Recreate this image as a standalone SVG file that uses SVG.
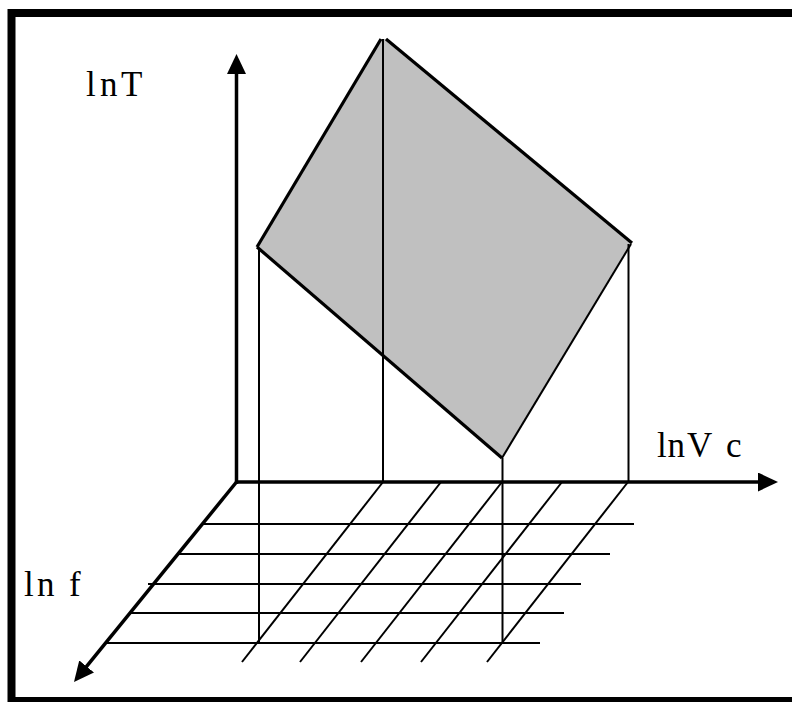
<svg xmlns="http://www.w3.org/2000/svg" width="792" height="702" viewBox="0 0 792 702">
<style>
.frame{fill:none;stroke:#000;stroke-width:8}
.axis{stroke:#000;stroke-width:3.5;fill:none}
.thin{stroke:#000;stroke-width:2;fill:none}
.edge{stroke:#000;stroke-width:3.2;fill:none;stroke-linejoin:round}
.face{fill:#c0c0c0;stroke:none}
.lbl{font-family:"Liberation Serif","Times New Roman",serif;font-size:35px;fill:#000}
</style>
<defs>
<marker id="arr" viewBox="0 0 20 19" refX="10" refY="9.5" markerWidth="20" markerHeight="19" markerUnits="userSpaceOnUse" orient="auto">
<path d="M0,0 L20,9.5 L0,19 z" fill="#000"/>
</marker>
</defs>
<rect class="frame" x="11.5" y="13" width="800" height="688"/>
<g id="surface">
<polygon class="face" points="257,247 381,39 386,39 632,243 502,458"/>
<line class="edge" x1="257" y1="247" x2="381" y2="39"/>
<line class="edge" x1="386" y1="39" x2="632" y2="243"/>
<line class="edge" x1="257" y1="247" x2="502" y2="458"/>
<line class="thin" x1="502" y1="458" x2="631" y2="244"/>
</g>
<g id="grid">
<line class="thin" x1="202" y1="524" x2="634" y2="524"/>
<line class="thin" x1="179" y1="554" x2="610" y2="554"/>
<line class="thin" x1="148" y1="584" x2="581" y2="584"/>
<line class="thin" x1="131" y1="613" x2="564" y2="613"/>
<line class="thin" x1="107" y1="643" x2="540" y2="643"/>
<line class="thin" x1="383" y1="482" x2="242" y2="662"/>
<line class="thin" x1="441" y1="482" x2="300" y2="662"/>
<line class="thin" x1="502" y1="482" x2="361" y2="662"/>
<line class="thin" x1="562" y1="482" x2="421" y2="662"/>
<line class="thin" x1="628" y1="482" x2="487" y2="662"/>
</g>
<g id="projections">
<line class="thin" x1="259" y1="248" x2="259" y2="643"/>
<line class="thin" x1="383" y1="39" x2="383" y2="482"/>
<line class="thin" x1="502.5" y1="458" x2="502.5" y2="643"/>
<line class="thin" x1="628.5" y1="244" x2="628.5" y2="482"/>
</g>
<g id="axes">
<line class="axis" x1="236.5" y1="484" x2="236.5" y2="64" marker-end="url(#arr)"/>
<line class="axis" x1="235" y1="482" x2="768" y2="482" marker-end="url(#arr)"/>
<line class="axis" x1="236.5" y1="482" x2="80.3" y2="674.2" marker-end="url(#arr)"/>
</g>
<g id="labels">
<text class="lbl" y="96"><tspan x="86">l</tspan><tspan x="100">n</tspan><tspan x="121">T</tspan></text>
<text class="lbl" y="457"><tspan x="657">l</tspan><tspan x="667.5">n</tspan><tspan x="687">V</tspan><tspan x="726">c</tspan></text>
<text class="lbl" y="596"><tspan x="24">l</tspan><tspan x="37">n</tspan><tspan x="69">f</tspan></text>
</g>
</svg>
